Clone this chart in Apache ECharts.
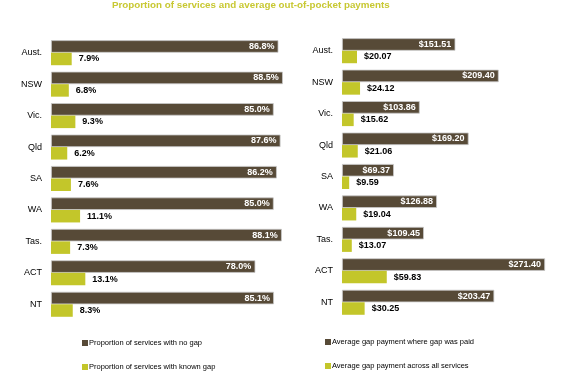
<!DOCTYPE html>
<html><head><meta charset="utf-8">
<script src="https://cdn.jsdelivr.net/npm/echarts@6/dist/echarts.min.js"></script>
<style>html,body{margin:0;padding:0;background:#fff}#c{width:577px;height:385px}</style>
</head><body><div id="c"></div>
<script>
const categories = ['Aust.','NSW','Vic.','Qld','SA','WA','Tas.','ACT','NT'];
const noGap = [86.8,88.5,85.0,87.6,86.2,85.0,88.1,78.0,85.1];
const knownGap = [7.9,6.8,9.3,6.2,7.6,11.1,7.3,13.1,8.3];
const gapPaid = [151.51,209.40,103.86,169.20,69.37,126.88,109.45,271.40,203.47];
const gapAll = [20.07,24.12,15.62,21.06,9.59,19.04,13.07,59.83,30.25];
const seriesNames = ['Proportion of services with no gap','Proportion of services with known gap','Average gap payment where gap was paid','Average gap payment across all services'];

const DARK = '#574a37', GREEN = '#c3c62a';
const chart = echarts.init(document.getElementById('c'));
const font = 'Arial, "Liberation Sans", sans-serif';
function darkLabel(fmt){return {show:true,position:'insideRight',distance:4,color:'#fff',fontWeight:'bold',fontSize:9,fontFamily:font,formatter:fmt};}
function greenLabel(fmt){return {show:true,position:'right',distance:7,color:'#000',fontWeight:'bold',fontSize:9,fontFamily:font,formatter:fmt};}
const pct = p => p.value.toFixed(1) + '%';
const usd = p => '$' + p.value.toFixed(2);
const yAxisBase = {type:'category',data:categories,inverse:true,axisLine:{show:false},axisTick:{show:false},
  axisLabel:{color:'#000',fontSize:9,fontFamily:font,margin:9}};
const xAxisBase = {type:'value',min:0,axisLine:{show:false},axisTick:{show:false},axisLabel:{show:false},splitLine:{show:false}};
const legendBase = {orient:'vertical',padding:0,itemGap:16,itemWidth:6,itemHeight:6,icon:'rect',
  itemStyle:{borderWidth:0},textStyle:{fontSize:7.5,color:'#000',fontFamily:font,padding:[0,0,0,-4]}};
chart.setOption({
  animation:false,
  title:{text:'Proportion of services and average out-of-pocket payments',left:112,top:0,padding:0,
    textStyle:{color:'#c8c832',fontSize:9.8,fontWeight:'bold',fontFamily:font}},
  grid:[{left:51,top:37,width:262,height:283},{left:342,top:35,width:224.5,height:283}],
  xAxis:[Object.assign({gridIndex:0,max:100},xAxisBase),Object.assign({gridIndex:1,max:300},xAxisBase)],
  yAxis:[Object.assign({gridIndex:0},yAxisBase),Object.assign({gridIndex:1},yAxisBase)],
  legend:[
    Object.assign({data:[seriesNames[0],seriesNames[1]],left:82,top:339},legendBase),
    Object.assign({data:[seriesNames[2],seriesNames[3]],left:325,top:338},legendBase)
  ],
  series:[
    {name:seriesNames[0],type:'bar',xAxisIndex:0,yAxisIndex:0,data:noGap,barWidth:12.5,barGap:'0%',
     itemStyle:{color:DARK,borderColor:'#c9c9c9',borderWidth:0.8},label:darkLabel(pct)},
    {name:seriesNames[1],type:'bar',xAxisIndex:0,yAxisIndex:0,data:knownGap,barWidth:12.5,barGap:'0%',
     itemStyle:{color:GREEN},label:greenLabel(pct)},
    {name:seriesNames[2],type:'bar',xAxisIndex:1,yAxisIndex:1,data:gapPaid,barWidth:12.5,barGap:'0%',
     itemStyle:{color:DARK,borderColor:'#c9c9c9',borderWidth:0.8},label:darkLabel(usd)},
    {name:seriesNames[3],type:'bar',xAxisIndex:1,yAxisIndex:1,data:gapAll,barWidth:12.5,barGap:'0%',
     itemStyle:{color:GREEN},label:greenLabel(usd)}
  ]
});
</script></body></html>
